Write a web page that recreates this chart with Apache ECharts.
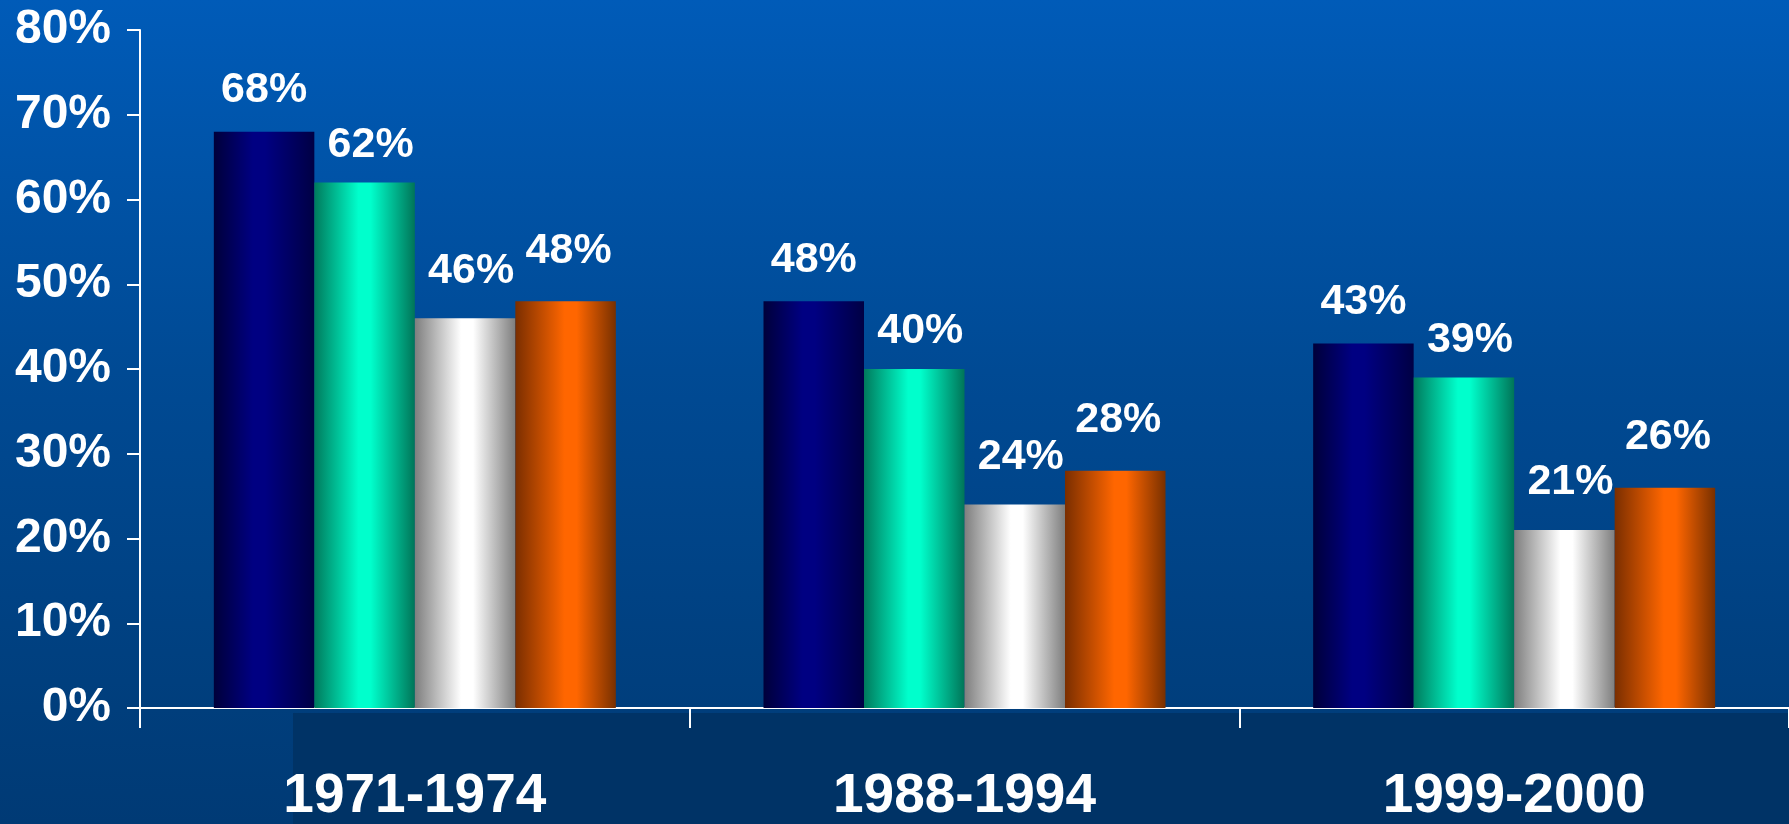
<!DOCTYPE html>
<html>
<head>
<meta charset="utf-8">
<script src="https://cdn.jsdelivr.net/npm/echarts@6/dist/echarts.min.js"></script>
<style>
  html, body { margin: 0; padding: 0; width: 1789px; height: 824px; overflow: hidden; }
  body {
    background: linear-gradient(to bottom, #005BB8 0%, #004A94 45%, #003E7C 86%, #003A75 100%);
  }
  #chart { position: absolute; left: 0; top: 0; width: 1789px; height: 824px; }
</style>
</head>
<body>
<div id="chart"></div>
<script>
// Survey periods on the category axis
const periods = ['1971-1974', '1988-1994', '1999-2000'];

// Percentages per group, one array per bar colour
const seriesNavy = [68, 48, 43];
const seriesTeal = [62, 40, 39];
const seriesSilver = [46, 24, 21];
const seriesOrange = [48, 28, 26];

// Value-axis tick labels (0% .. 80%, step 10)
const yTicks = [0, 10, 20, 30, 40, 50, 60, 70, 80];

const chart = echarts.init(document.getElementById('chart'), null, {
  renderer: 'canvas', width: 1789, height: 824
});

// Cylinder-like shading: dark edges, bright middle
function shade(dark, bright, darkRight, mid) {
  return new echarts.graphic.LinearGradient(0, 0, 1, 0, [
    { offset: 0, color: dark },
    { offset: mid - 0.06, color: bright },
    { offset: mid + 0.06, color: bright },
    { offset: 1, color: darkRight }
  ]);
}

function valueLabel(distance, dx) {
  return {
    show: true,
    position: 'top',
    distance: distance,
    offset: [dx, 0],
    color: '#FFFFFF',
    fontFamily: "'Liberation Sans', Arial, sans-serif",
    fontWeight: 'bold',
    fontSize: 43,
    formatter: p => p.value + '%'
  };
}

function barSeries(name, values, fill, label) {
  return {
    name: name,
    type: 'bar',
    data: values,
    barWidth: 100.5,
    barGap: '0%',
    itemStyle: { color: fill },
    label: label,
    emphasis: { disabled: true }
  };
}

chart.setOption({
  backgroundColor: 'transparent',
  animation: false,
  grid: { left: 140, top: 30, height: 682.5, width: 1654, containLabel: false },
  graphic: [{
    type: 'rect',
    z: -10,
    silent: true,
    shape: { x: 293, y: 713, width: 1500, height: 120 },
    style: { fill: '#003366' }
  }],
  xAxis: {
    type: 'category',
    data: periods,
    axisLine: { show: true, lineStyle: { color: '#FFFFFF', width: 2 } },
    axisTick: { show: true, length: 20, lineStyle: { color: '#FFFFFF', width: 2 } },
    axisLabel: {
      color: '#FFFFFF',
      fontFamily: "'Liberation Sans', Arial, sans-serif",
      fontWeight: 'bold',
      fontSize: 55,
      margin: 61
    },
    splitLine: { show: false }
  },
  yAxis: {
    type: 'value',
    min: yTicks[0],
    max: yTicks[yTicks.length - 1],
    interval: yTicks[1] - yTicks[0],
    axisLine: { show: true, lineStyle: { color: '#FFFFFF', width: 2 } },
    axisTick: { show: true, length: 13, lineStyle: { color: '#FFFFFF', width: 2 } },
    axisLabel: {
      color: '#FFFFFF',
      fontFamily: "'Liberation Sans', Arial, sans-serif",
      fontWeight: 'bold',
      fontSize: 48,
      margin: 29,
      formatter: '{value}%'
    },
    splitLine: { show: false }
  },
  series: [
    barSeries('Navy', seriesNavy, shade('#00003A', '#000082', '#000044', 0.45), valueLabel(20, 0)),
    barSeries('Teal', seriesTeal, shade('#007A5C', '#00FFCC', '#007558', 0.5), valueLabel(16, 6)),
    barSeries('Silver', seriesSilver, shade('#7E7E7E', '#FFFFFF', '#7E7E7E', 0.52), valueLabel(26, 6)),
    barSeries('Orange', seriesOrange, shade('#7A2E00', '#FF6600', '#783000', 0.55), valueLabel(29, 3))
  ]
});
</script>
</body>
</html>
